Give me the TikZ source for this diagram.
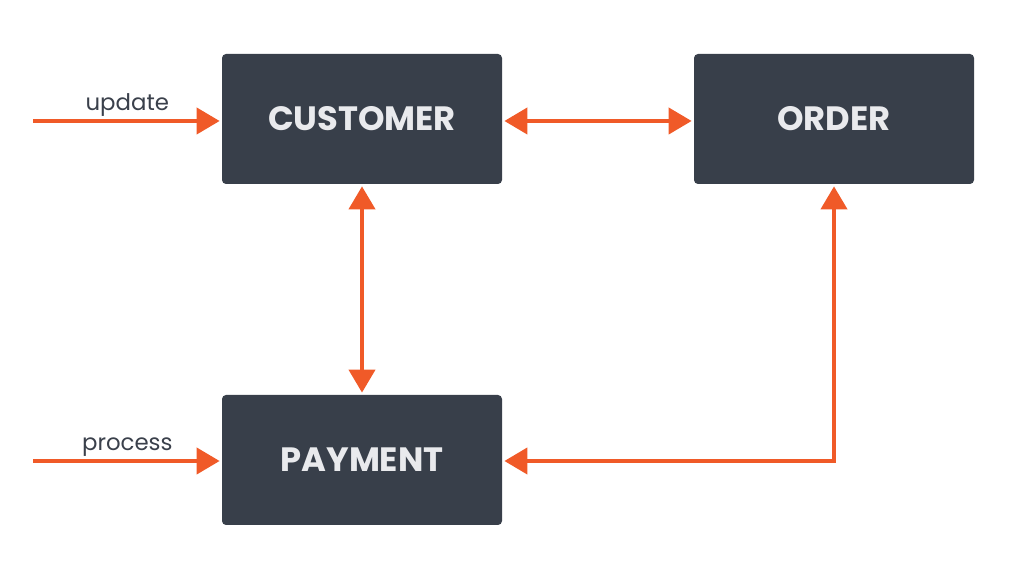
\documentclass[tikz,border=0pt]{standalone}
\usepackage{fontspec}
\setmainfont{Poppins}
\usepackage{xcolor}
\usepackage{tikz}
\usetikzlibrary{shapes,arrows.meta,positioning}

\definecolor{boxgray}{HTML}{383F4A}
\definecolor{boxtext}{HTML}{E9EAED}
\definecolor{linkorange}{HTML}{F05A28}
\definecolor{labelgray}{HTML}{3A404B}

\begin{document}
\begin{tikzpicture}[
        box/.style={rectangle, fill=boxgray, rounded corners=0.08cm, minimum width=5.6cm, minimum height=2.6cm, align=center, text=boxtext, font=\fontsize{19.2}{23}\selectfont\bfseries},
        arrow/.style={linkorange, line width=2.3pt, -{Triangle[length=0.46cm, width=0.52cm]}, shorten >=0.04cm},
        twoway/.style={arrow, {Triangle[length=0.46cm, width=0.52cm]}-{Triangle[length=0.46cm, width=0.52cm]}, shorten <=0.04cm},
        lbl/.style={font=\fontsize{13}{15}\selectfont, text=labelgray, yshift=-0.06cm}
    ]
        \useasboundingbox (0,0) rectangle (20.44,11.32);

        % Boxes
        \node[box] (customer) at (7.24,8.94) {CUSTOMER};
        \node[box] (order) at (16.68,8.94) {ORDER};
        \node[box] (payment) at (7.24,2.12) {PAYMENT};

        % Inputs
        \coordinate (in1) at (0.66,8.90);
        \coordinate (in2) at (0.66,2.10);
        \draw[arrow] (in1) -- (in1 -| customer.west) node[midway, above, lbl] {update};
        \draw[arrow] (in2) -- (in2 -| payment.west) node[midway, above, lbl] {process};

        % Links between boxes
        \draw[twoway] ([yshift=-0.04cm]customer.east) -- ([yshift=-0.04cm]order.west);
        \draw[twoway] (customer.south) -- (payment.north);
        \draw[twoway] (order.south) |- ([yshift=-0.02cm]payment.east);
    \end{tikzpicture}
\end{document}
